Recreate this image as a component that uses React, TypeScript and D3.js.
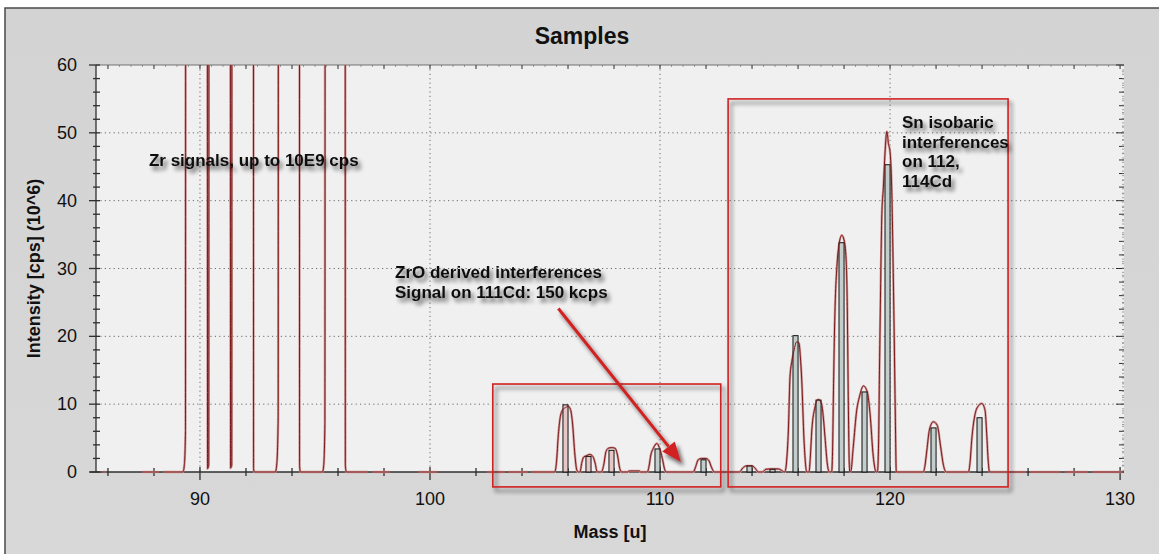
import React from 'react';
import * as d3 from 'd3';

// ---- chart text ----
const chartTitle = 'Samples';
const xAxisLabel = 'Mass [u]';
const yAxisLabel = 'Intensity [cps] (10^6)';
const xTickValues = [90, 100, 110, 120, 130];
const yTickValues = [0, 10, 20, 30, 40, 50, 60];
const xDomain: [number, number] = [85.48, 130.17];
const yDomain: [number, number] = [0, 60];

// ---- stick (bar) intensities at integer masses, 10^6 cps ----
const barMasses = [106, 107, 108, 110, 112, 114, 115, 116, 117, 118, 119, 120, 122, 124];
const barValues = [9.9, 2.3, 3.2, 3.4, 1.8, 0.9, 0.4, 20.1, 10.6, 33.8, 11.8, 45.3, 6.5, 8.0];
const pinkBarMasses = [106, 107, 108];

// ---- profile scan, [mass, intensity] ----
const scanA = [[85.78, 0], [85.92, 0]];
const scanB = [[87.5, 0], [88.2, 0]];
// Zr region: signals up to 10E9 cps (1000 x 10^6), clipped by the frame
const scanZr = [
  [88.4, 0], [89.26, 0], [89.32, 1], [89.37, 6], [89.42, 1000], [90.28, 1000], [90.33, 0.5], [90.38, 1],
  [90.43, 1000], [91.28, 1000], [91.33, 0.6], [91.38, 1], [91.42, 1000], [92.3, 1000], [92.33, 0.5],
  [92.36, 0], [93.28, 0], [93.34, 1.2], [93.4, 8], [93.45, 1000], [94.3, 1000], [94.33, 1], [94.36, 0],
  [95.33, 0], [95.38, 1], [95.43, 7], [95.5, 1000], [96.28, 1000], [96.32, 1], [96.36, 0], [97.3, 0],
];
const scanC = [[97.5, 0], [98.26, 0]];
const scanD = [[99.5, 0], [100.3, 0]];
const scanE = [[102.5, 0], [103.26, 0]];
const scanF = [[103.4, 0], [104.26, 0]];
const scanCdSn = [
  [104.4, 0], [105.43, 0], [105.5, 1.5], [105.58, 5.5], [105.68, 8.4], [105.8, 9.3], [105.9, 9.5],
  [106.0, 9.7], [106.1, 9.3], [106.19, 7.4], [106.3, 2.5], [106.38, 0.3], [106.45, 0],
  [106.52, 0], [106.6, 1.4], [106.68, 2.2], [106.8, 2.4], [106.95, 2.6], [107.08, 2.3], [107.18, 1.3], [107.27, 0],
  [107.45, 0], [107.55, 1.0], [107.65, 3.0], [107.75, 3.5], [107.9, 3.6], [108.05, 3.5], [108.15, 2.5],
  [108.25, 0.5], [108.33, 0],
  [108.6, 0], [108.65, 0.15], [109.1, 0.15], [109.15, 0],
  [109.45, 0], [109.52, 0.8], [109.6, 2.5], [109.71, 3.5], [109.86, 4.2], [109.97, 3.6], [110.1, 2.0],
  [110.2, 0.4], [110.26, 0],
  [111.45, 0], [111.55, 0.8], [111.66, 1.8], [111.8, 2.0], [112.0, 2.0], [112.12, 1.7], [112.25, 0.6], [112.35, 0],
  [113.45, 0], [113.6, 0.6], [113.75, 0.9], [114.0, 0.9], [114.15, 0.5], [114.27, 0],
  [114.45, 0], [114.6, 0.4], [114.8, 0.45], [115.15, 0.45], [115.3, 0.2], [115.38, 0],
  [115.43, 0], [115.5, 1.5], [115.58, 6.2], [115.65, 14], [115.73, 16.3], [115.8, 17.5], [115.94, 19.2],
  [116.04, 19.0], [116.1, 17], [116.16, 13.6], [116.26, 4.7], [116.38, 0],
  [116.48, 0], [116.53, 2], [116.6, 6.2], [116.74, 9.6], [116.88, 10.7], [117.03, 9.9], [117.1, 8],
  [117.17, 5.2], [117.28, 1], [117.36, 0],
  [117.46, 0], [117.5, 3], [117.54, 12], [117.58, 20], [117.61, 24.4], [117.68, 29.8], [117.75, 32.7],
  [117.9, 34.9], [118.0, 34.2], [118.09, 31.3], [118.14, 24.4], [118.18, 12], [118.22, 2], [118.25, 0],
  [118.29, 0], [118.4, 3.7], [118.55, 9.1], [118.67, 11.1], [118.84, 12.7], [119.01, 11.8], [119.13, 8.6],
  [119.27, 2.3], [119.39, 0],
  [119.45, 0], [119.5, 4], [119.54, 15], [119.57, 22.4], [119.64, 37.6], [119.71, 42], [119.78, 47],
  [119.86, 50.2], [119.93, 48.4], [120.0, 47.2], [120.07, 42], [120.17, 22.4], [120.23, 8], [120.27, 0],
  [121.45, 0], [121.52, 1], [121.6, 3.2], [121.71, 6.2], [121.88, 7.4], [122.05, 6.9], [122.2, 3.7],
  [122.32, 1], [122.45, 0],
  [123.41, 0], [123.48, 1.5], [123.55, 4.7], [123.7, 8.6], [123.85, 9.8], [123.99, 10.1], [124.13, 9.1],
  [124.2, 5.7], [124.27, 1.5], [124.32, 0], [125.1, 0],
];
const scanG = [[125.2, 0], [125.9, 0]];
const scanH = [[126.1, 0], [127.4, 0]];
const scanI = [[127.6, 0], [128.6, 0]];
const scanJ = [[128.8, 0], [130.1, 0]];
const scans = [scanA, scanB, scanZr, scanC, scanD, scanE, scanF, scanCdSn, scanG, scanH, scanI, scanJ];

// ---- annotation texts ----
const zrNote = ['Zr signals, up to 10E9 cps'];
const zroNote = ['ZrO derived interferences', 'Signal on 111Cd: 150 kcps'];
const snNote = ['Sn isobaric', 'interferences', 'on 112,', '114Cd'];

export default function App() {
  const W = 1159, H = 554;
  const L = 96, R = 1124, T = 65, B = 472;
  const x = d3.scaleLinear().domain(xDomain).range([L, R]);
  const y = d3.scaleLinear().domain(yDomain).range([B, T]);
  const line = d3
    .line<number[]>()
    .x((d) => x(d[0]))
    .y((d) => y(d[1]))
    .curve(d3.curveMonotoneX);

  const minorX = d3.range(86, 131, 2).filter((v) => !xTickValues.includes(v));
  const minorY = d3.range(0, 61, 2).filter((v) => !yTickValues.includes(v));
  const tinyX = d3.range(86, 130.1, 0.5);
  const tinyY = d3.range(0, 60.1, 1);

  const axisColor = '#2f2f2f';
  const red = '#d02222';
  const font = 'Arial, "Liberation Sans", Helvetica, sans-serif';

  // arrow (data coordinates)
  const ax0 = x(105.58), ay0 = y(24.1), ax1 = x(110.91), ay1 = y(1.47);
  const ang = Math.atan2(ay1 - ay0, ax1 - ax0);
  const hl = 20, hw = 8;
  const bx = ax1 - hl * Math.cos(ang), by = ay1 - hl * Math.sin(ang);
  const head = [
    [ax1, ay1],
    [bx + hw * Math.sin(ang), by - hw * Math.cos(ang)],
    [bx - hw * Math.sin(ang), by + hw * Math.cos(ang)],
  ];

  return (
    <svg
      width={W}
      height={H}
      style={{ position: 'absolute', left: 0, top: 0, display: 'block' }}
      fontFamily={font}
    >
      <defs>
        <linearGradient id="bgGrad" x1="0" y1="0" x2="0" y2="1">
          <stop offset="0" stopColor="#d3d3d3" />
          <stop offset="1" stopColor="#d8d8d8" />
        </linearGradient>
        <filter id="shadow" x="-20%" y="-40%" width="140%" height="200%">
          <feGaussianBlur in="SourceAlpha" stdDeviation="2" />
          <feOffset dx="3" dy="4" />
          <feComponentTransfer>
            <feFuncA type="linear" slope="0.6" />
          </feComponentTransfer>
          <feMerge>
            <feMergeNode />
            <feMergeNode in="SourceGraphic" />
          </feMerge>
        </filter>
        <clipPath id="plotClip">
          <rect x={L} y={T} width={R - L} height={B - T + 2} />
        </clipPath>
      </defs>

      <rect x={0} y={0} width={W} height={H} fill="#ffffff" />
      <rect x={5} y={8} width={W + 10} height={H + 10} fill="url(#bgGrad)" stroke="#4a4a4a" strokeWidth={1.5} />

      {/* plot background */}
      <rect x={L} y={T} width={R - L} height={B - T} fill="#eff0ef" />

      {/* grid */}
      <g stroke="#6a6a6a" strokeWidth={1} strokeDasharray="1.2,3.2">
        {xTickValues.filter((v) => v < 130).map((v) => (
          <line key={'gx' + v} x1={x(v)} x2={x(v)} y1={T} y2={B} />
        ))}
        {yTickValues.filter((v) => v > 0 && v < 60).map((v) => (
          <line key={'gy' + v} x1={L} x2={R} y1={y(v)} y2={y(v)} />
        ))}
        <line x1={R - 1} x2={R - 1} y1={T} y2={B} />
      </g>

      {/* axes */}
      <g stroke={axisColor} strokeWidth={1.3}>
        <line x1={L} x2={L} y1={T} y2={B} />
        <line x1={L - 6} x2={R} y1={B} y2={B} />
        <line x1={L} x2={R} y1={T} y2={T} strokeWidth={0.8} stroke="#555" />
        {yTickValues.map((v) => (
          <line key={'ty' + v} x1={L - 7} x2={L + 4} y1={y(v)} y2={y(v)} />
        ))}
        {minorY.map((v) => (
          <line key={'my' + v} x1={L - 3} x2={L + 4} y1={y(v)} y2={y(v)} />
        ))}
        {xTickValues.map((v) => (
          <line key={'tx' + v} x1={x(v)} x2={x(v)} y1={B - 5} y2={B + 8} />
        ))}
        {minorX.map((v) => (
          <line key={'mx' + v} x1={x(v)} x2={x(v)} y1={B - 4} y2={B + 4} />
        ))}
        {/* top & right frame ticks */}
        {d3.range(86, 131, 2).map((v) => (
          <line key={'tt' + v} x1={x(v)} x2={x(v)} y1={T} y2={T + 4} strokeWidth={1} />
        ))}
        {tinyX.map((v) => (
          <line key={'tn' + v} x1={x(v)} x2={x(v)} y1={T} y2={T + 2} strokeWidth={0.7} stroke="#777" />
        ))}
        {d3.range(0, 61, 2).map((v) => (
          <line key={'tr' + v} x1={R - (v % 10 === 0 ? 8 : 5)} x2={R} y1={y(v)} y2={y(v)} strokeWidth={1} />
        ))}
        {tinyY.map((v) => (
          <line key={'trn' + v} x1={R - 2} x2={R} y1={y(v)} y2={y(v)} strokeWidth={0.7} stroke="#777" />
        ))}
      </g>

      {/* tick labels */}
      <g fontSize={18} fill="#111">
        {yTickValues.map((v) => (
          <text key={'ly' + v} x={77} y={y(v)} textAnchor="end" dominantBaseline="central">
            {v}
          </text>
        ))}
        {xTickValues.map((v) => (
          <text key={'lx' + v} x={x(v)} y={505} textAnchor="middle">
            {v}
          </text>
        ))}
      </g>

      {/* spectrum */}
      <g clipPath="url(#plotClip)">
        {scans.map((s, i) => (
          <path key={'ls' + i} d={line(s) || ''} fill="none" stroke="#cf9c9c" strokeWidth={2.4} />
        ))}
        {barMasses.map((m, i) => (
          <rect
            key={'b' + m}
            x={x(m - 0.22)}
            y={y(barValues[i])}
            width={x(m) - x(m - 0.22)}
            height={y(0) - y(barValues[i])}
            fill={pinkBarMasses.includes(m) ? '#e9c6c6' : '#c3cdcc'}
            stroke="#111"
            strokeWidth={1}
          />
        ))}
        {scans.map((s, i) => (
          <path key={'ld' + i} d={line(s) || ''} fill="none" stroke="#7c1717" strokeWidth={1} />
        ))}
      </g>

      {/* annotation boxes */}
      <g fill="none" stroke={red} strokeWidth={1.6} filter="url(#shadow)">
        <rect x={x(102.73)} y={y(12.97)} width={x(112.64) - x(102.73)} height={y(-2.2) - y(12.97)} />
        <rect x={x(112.96)} y={y(55)} width={x(125.13) - x(112.96)} height={y(-2.2) - y(55)} />
      </g>

      {/* arrow */}
      <g filter="url(#shadow)">
        <line x1={ax0} y1={ay0} x2={bx} y2={by} stroke={red} strokeWidth={3} />
        <polygon points={head.map((p) => p.join(',')).join(' ')} fill={red} />
      </g>

      {/* annotation texts */}
      <g fontSize={17} fontWeight="bold" fill="#111" filter="url(#shadow)">
        {zrNote.map((t, i) => (
          <text key={'zn' + i} x={x(87.78)} y={y(45.1) + i * 19.5}>
            {t}
          </text>
        ))}
        {zroNote.map((t, i) => (
          <text key={'zo' + i} x={x(98.48)} y={y(28.6) + i * 20}>
            {t}
          </text>
        ))}
        {snNote.map((t, i) => (
          <text key={'sn' + i} x={x(120.52)} y={y(50.7) + i * 19.7}>
            {t}
          </text>
        ))}
      </g>

      {/* titles */}
      <text x={582} y={44} textAnchor="middle" fontSize={23} fontWeight="bold" fill="#111">
        {chartTitle}
      </text>
      <text x={(L + R) / 2} y={538} textAnchor="middle" fontSize={18} fontWeight="bold" fill="#111">
        {xAxisLabel}
      </text>
      <text
        transform={`translate(40, ${(T + B) / 2}) rotate(-90)`}
        textAnchor="middle"
        fontSize={18}
        fontWeight="bold"
        fill="#111"
      >
        {yAxisLabel}
      </text>
    </svg>
  );
}
